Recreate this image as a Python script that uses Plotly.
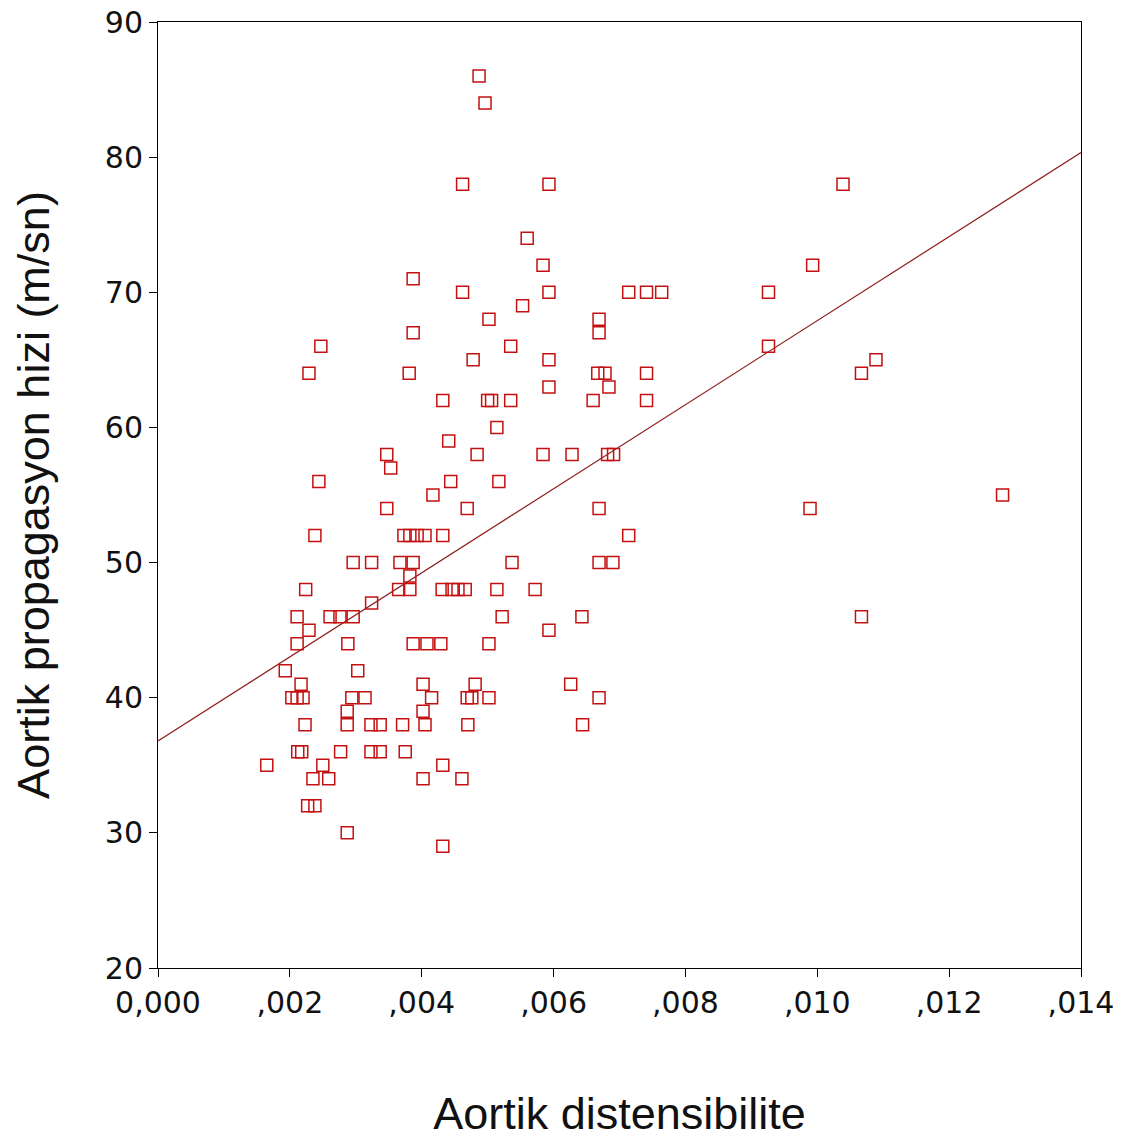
import plotly.graph_objects as go

# Aortik distensibilite (x) and Aortik propagasyon hizi (y)
dist = [
    0.00487, 0.00496,
    0.00462, 0.00593, 0.01039,
    0.00560,
    0.00584, 0.00993,
    0.00387,
    0.00462, 0.00593, 0.00714, 0.00741, 0.00764, 0.00926,
    0.00553,
    0.00502, 0.00669,
    0.00387, 0.00669,
    0.00247, 0.00535, 0.00926,
    0.00478, 0.00593, 0.01089,
    0.00229, 0.00381, 0.00667, 0.00678, 0.00741, 0.01067,
    0.00593, 0.00684,
    0.00432, 0.00500, 0.00506, 0.00535, 0.00660, 0.00741,
    0.00514,
    0.00441,
    0.00347, 0.00484, 0.00584, 0.00628, 0.00682, 0.00691,
    0.00353,
    0.00244, 0.00444, 0.00517,
    0.00417, 0.01281,
    0.00347, 0.00469, 0.00669, 0.00989,
    0.00238, 0.00373, 0.00382, 0.00393, 0.00405, 0.00432, 0.00714,
    0.00296, 0.00324, 0.00367, 0.00387, 0.00537, 0.00669, 0.00690,
    0.00382,
    0.00224, 0.00365, 0.00382, 0.00431, 0.00446, 0.00455, 0.00466, 0.00514, 0.00572,
    0.00324,
    0.00211, 0.00261, 0.00276, 0.00296, 0.00522, 0.00643, 0.01067,
    0.00229, 0.00593,
    0.00211, 0.00288, 0.00387, 0.00408, 0.00429, 0.00502,
    0.00193, 0.00303,
    0.00217, 0.00402, 0.00481, 0.00626,
    0.00203, 0.00211, 0.00220, 0.00294, 0.00314, 0.00415, 0.00469, 0.00476, 0.00502, 0.00669,
    0.00287, 0.00402,
    0.00223, 0.00287, 0.00323, 0.00337, 0.00371, 0.00405, 0.00470, 0.00644,
    0.00212, 0.00218, 0.00277, 0.00323, 0.00337, 0.00375,
    0.00165, 0.00250, 0.00432,
    0.00235, 0.00259, 0.00402, 0.00461,
    0.00227, 0.00238,
    0.00287,
    0.00432,
]
velocity = [
    86, 84,
    78, 78, 78,
    74,
    72, 72,
    71,
    70, 70, 70, 70, 70, 70,
    69,
    68, 68,
    67, 67,
    66, 66, 66,
    65, 65, 65,
    64, 64, 64, 64, 64, 64,
    63, 63,
    62, 62, 62, 62, 62, 62,
    60,
    59,
    58, 58, 58, 58, 58, 58,
    57,
    56, 56, 56,
    55, 55,
    54, 54, 54, 54,
    52, 52, 52, 52, 52, 52, 52,
    50, 50, 50, 50, 50, 50, 50,
    49,
    48, 48, 48, 48, 48, 48, 48, 48, 48,
    47,
    46, 46, 46, 46, 46, 46, 46,
    45, 45,
    44, 44, 44, 44, 44, 44,
    42, 42,
    41, 41, 41, 41,
    40, 40, 40, 40, 40, 40, 40, 40, 40, 40,
    39, 39,
    38, 38, 38, 38, 38, 38, 38, 38,
    36, 36, 36, 36, 36, 36,
    35, 35, 35,
    34, 34, 34, 34,
    32, 32,
    30,
    29,
]

# fitted line
fit_intercept = 36.8
fit_slope = 3110.0
fit_x = [0.0, 0.014]
fit_y = [fit_intercept + fit_slope * v for v in fit_x]

x_ticks = [0.0, 0.002, 0.004, 0.006, 0.008, 0.010, 0.012, 0.014]
x_ticktext = ["0,000", ",002", ",004", ",006", ",008", ",010", ",012", ",014"]
y_ticks = [20, 30, 40, 50, 60, 70, 80, 90]

fig = go.Figure()
fig.add_trace(go.Scatter(
    x=fit_x, y=fit_y, mode="lines",
    line=dict(color="#8e1b1b", width=1.2),
    showlegend=False, hoverinfo="skip",
))
fig.add_trace(go.Scatter(
    x=dist, y=velocity, mode="markers",
    marker=dict(symbol="square-open", size=12, color="#c41010",
                line=dict(width=1.5, color="#c41010")),
    showlegend=False,
))

tick_font = dict(family="DejaVu Sans", size=30, color="#111111")
title_font = dict(family="Liberation Sans, Arial", size=45, color="#111111")

fig.update_layout(
    width=1130, height=1132,
    margin=dict(l=150, r=57, t=14, b=172),
    paper_bgcolor="white", plot_bgcolor="white",
    xaxis=dict(
        range=[0, 0.014], tickvals=x_ticks, ticktext=x_ticktext,
        showgrid=False, zeroline=False, automargin=False,
        ticklabeloverflow="allow",
        showline=True, linecolor="black", linewidth=1, mirror=True,
        ticks="outside", ticklen=8, tickcolor="black",
        tickfont=tick_font,
        title=dict(text="Aortik distensibilite", font=title_font, standoff=78),
    ),
    yaxis=dict(
        range=[20, 90], tickvals=y_ticks,
        showgrid=False, zeroline=False, automargin=False,
        ticklabeloverflow="allow",
        showline=True, linecolor="black", linewidth=1, mirror=True,
        ticks="outside", ticklen=8, tickcolor="black",
        tickfont=tick_font,
        title=dict(text="Aortik propagasyon hizi (m/sn)", font=title_font, standoff=42),
    ),
)

fig.write_html("out.html")
